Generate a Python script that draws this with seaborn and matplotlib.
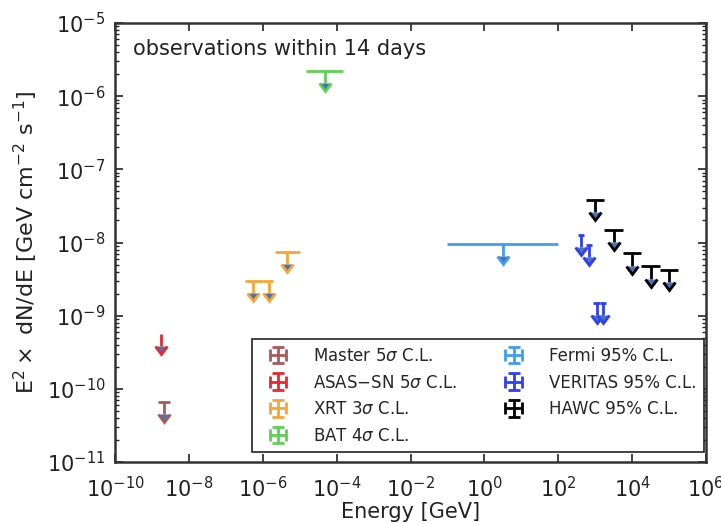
import numpy as np
import matplotlib
matplotlib.use("Agg")
import matplotlib.pyplot as plt
import seaborn as sns
from matplotlib.ticker import LogLocator, NullLocator

# ---------------- data ----------------
master_E = [2.1e-9]
master_Elo = [1.45e-9]
master_Ehi = [3.0e-9]
master_F = [6.6e-11]

asassn_E = [1.8e-9]
asassn_Elo = [1.8e-9]
asassn_Ehi = [1.8e-9]
asassn_F = [5.6e-10]

xrt_E = [5.5e-7, 1.5e-6, 4.6e-6]
xrt_Elo = [3.3e-7, 1.02e-6, 2.1e-6]
xrt_Ehi = [1.02e-6, 1.9e-6, 1.02e-5]
xrt_F = [3.0e-9, 3.0e-9, 7.4e-9]

bat_E = [4.7e-5]
bat_Elo = [1.5e-5]
bat_Ehi = [1.5e-4]
bat_F = [2.2e-6]

fermi_E = [3.2]
fermi_Elo = [0.1]
fermi_Ehi = [100.0]
fermi_F = [9.5e-9]

veritas_E = [410, 680, 1100, 1650]
veritas_Elo = [335, 555, 900, 1350]
veritas_Ehi = [500, 830, 1350, 2020]
veritas_F = [1.26e-8, 9.3e-9, 1.5e-9, 1.5e-9]

hawc_E = [1.0e3, 3.16e3, 1.0e4, 3.16e4, 1.0e5]
hawc_Elo = [562, 1778, 5623, 17783, 56234]
hawc_Ehi = [1778, 5623, 17783, 56234, 177828]
hawc_F = [3.8e-8, 1.48e-8, 7.1e-9, 4.7e-9, 4.2e-9]

series = [
    ("Master 5$\\sigma$ C.L.", master_E, master_Elo, master_Ehi, master_F, "#a85a5a"),
    ("ASAS$-$SN 5$\\sigma$ C.L.", asassn_E, asassn_Elo, asassn_Ehi, asassn_F, "#e8282e"),
    ("XRT 3$\\sigma$ C.L.", xrt_E, xrt_Elo, xrt_Ehi, xrt_F, "#f7a535"),
    ("BAT 4$\\sigma$ C.L.", bat_E, bat_Elo, bat_Ehi, bat_F, "#5cd152"),
    ("Fermi 95% C.L.", fermi_E, fermi_Elo, fermi_Ehi, fermi_F, "#3d9ff0"),
    ("VERITAS 95% C.L.", veritas_E, veritas_Elo, veritas_Ehi, veritas_F, "#2f3ff5"),
    ("HAWC 95% C.L.", hawc_E, hawc_Elo, hawc_Ehi, hawc_F, "black"),
]

ARROW_FRAC = 0.32  # length of the upper-limit arrow shaft, as a fraction of the value

# ---------------- style ----------------
sns.set_theme(style="ticks")
plt.rcParams["font.family"] = ["DejaVu Sans"]
plt.rcParams["mathtext.fontset"] = "dejavusans"
plt.rcParams["lines.markersize"] = 8

fig = plt.figure(figsize=(7.21, 5.24), dpi=100)
ax = fig.add_axes([115 / 721, 62 / 524, 591 / 721, 439 / 524])

for label, E, Elo, Ehi, F, color in series:
    E = np.array(E, dtype=float)
    F = np.array(F, dtype=float)
    xerr = np.vstack([E - np.array(Elo, dtype=float), np.array(Ehi, dtype=float) - E])
    ax.errorbar(E, F, xerr=xerr, yerr=ARROW_FRAC * F, uplims=True, fmt="none",
                ecolor=color, elinewidth=2, capsize=0, capthick=2,
                label=label)

ax.set_xscale("log")
ax.set_yscale("log")
ax.set_xlim(1e-10, 1e6)
ax.set_ylim(1e-11, 1e-5)

ax.set_xticks([10.0 ** k for k in range(-10, 7, 2)])
ax.xaxis.set_minor_locator(NullLocator())
ax.yaxis.set_major_locator(LogLocator(base=10, numticks=20))
ax.yaxis.set_minor_locator(LogLocator(base=10, subs=np.arange(2, 10), numticks=20))

ax.tick_params(axis="both", which="both", direction="in", top=True, right=True,
               labelsize=15, colors="#222222")
ax.tick_params(which="major", length=6, width=1.2)
ax.tick_params(which="minor", length=3, width=1)
ax.tick_params(axis="x", which="major", pad=10)
ax.tick_params(axis="y", which="major", pad=7)
for sp in ax.spines.values():
    sp.set_linewidth(1.8)
    sp.set_color("#333333")

ax.set_xlabel("Energy [GeV]", fontsize=15, color="#222222", labelpad=1)
ax.set_ylabel("E$^2\\times$ dN/dE [GeV cm$^{-2}$ s$^{-1}$]", fontsize=16,
              color="#222222", labelpad=5)

ax.text(0.03, 0.94, "observations within 14 days", transform=ax.transAxes,
        fontsize=15, color="#222222", va="center", ha="left")

leg = ax.legend(loc="lower right", bbox_to_anchor=(0.996, 0.022), borderaxespad=0.0,
                ncol=2, fontsize=12, frameon=True, fancybox=False, borderpad=0.45,
                columnspacing=2.3, handletextpad=1.0, labelspacing=0.52,
                handlelength=2.2)
leg.get_frame().set_edgecolor("#222222")
leg.get_frame().set_linewidth(1.2)
leg.get_frame().set_alpha(1)

fig.savefig("out.png", dpi=100)
